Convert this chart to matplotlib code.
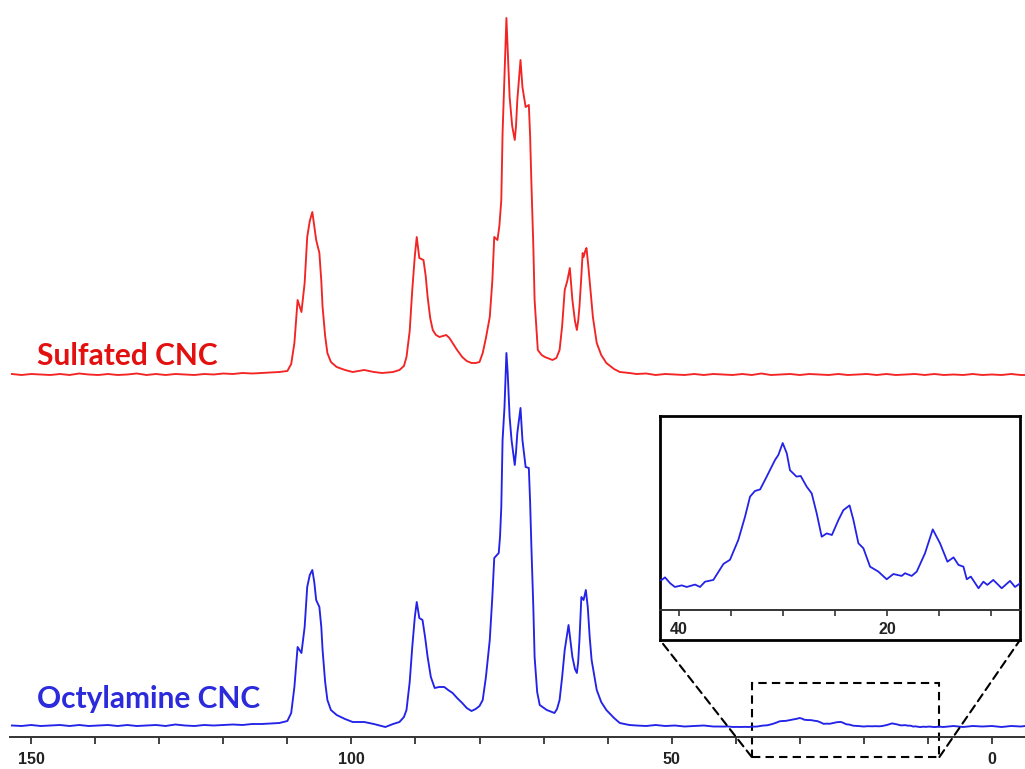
import matplotlib
matplotlib.use('Agg')
import matplotlib.pyplot as plt
from matplotlib.patches import Rectangle, ConnectionPatch

# 13C CP/MAS spectra, chemical shift (ppm) vs intensity (a.u.)
base_left_ppm = [153, 151.5, 150, 148.5, 147, 145.5, 144, 142.5, 141, 139.5, 138, 136.5, 135,
                 133.5, 132, 130.5, 129, 127.5, 126, 124.5, 123, 121.5, 120, 118.5, 117, 115.5,
                 114, 112.5]
base_right_ppm = [55.5, 54, 52.5, 51, 49.5, 48, 46.5, 45, 43.5]
base_tail_ppm = [42, 40.5, 39, 37.5, 36, 34.5, 33, 31.5, 30, 28.5, 27, 25.5, 24, 22.5, 21,
                 19.5, 18, 16.5, 15, 13.5, 12, 10.5, 9, 7.5]
base_end_ppm = [6, 4.5, 3, 1.5, 0, -1.5, -3, -4.5, -5.2]

sulfated_ppm = (base_left_ppm +
                [111.25, 110, 109.4, 108.9, 108.4, 107.8, 107.3, 106.9, 106.5, 106.1, 105.8,
                 105.5, 105.0, 104.7, 104.5, 104.1, 103.75, 103.2, 102.3, 101, 99.8, 98,
                 96.5, 95.2, 93.5, 92.5, 91.8, 91.4, 90.9, 90.5, 90.1, 89.8, 89.4, 88.75,
                 88.4, 88.1, 87.7, 87.3, 86.8, 86.25, 85.7, 85.2, 84.7, 84.2, 83.5, 82.7,
                 82, 81.25, 80.6, 80.0, 79.5, 79.0, 78.4, 78.0, 77.7, 77.2, 76.9, 76.6,
                 76.4, 76.1, 75.8, 75.6, 75.3, 74.9, 74.5, 74.3, 74.1, 73.6, 73.3, 72.8,
                 72.3, 72.1, 71.9, 71.6, 71.4, 71.1, 70.9, 70.3, 69.8, 68.6, 68.0, 67.5,
                 67.1, 66.7, 66.3, 65.9, 65.5, 65.1, 64.8, 64.6, 64.4, 64.1, 63.9, 63.75,
                 63.5, 63.3, 63.0, 62.6, 62.3, 61.7, 61.0, 60.2, 59, 58.1, 56.6] +
                base_right_ppm + base_tail_ppm + base_end_ppm)
sulfated_int = ([2, 1, 2, 1.5, 1, 2, 1, 2.5, 1.5, 1, 2, 1, 1.5, 2.5, 1, 2, 1, 2, 1.5, 1, 2,
                 1.5, 2.5, 2, 3, 2.5, 3, 3.5] +
                [4, 5, 12, 33, 76, 64, 93, 139, 155, 164, 150,
                 136, 123, 95, 69, 40, 23, 14, 9, 6, 4, 6,
                 4, 3, 4, 6, 10, 19, 45, 86, 120, 139, 118, 116,
                 100, 79, 58, 46, 41, 39, 40, 41, 38, 33, 26, 19,
                 15, 13, 13, 14, 23, 38, 59, 95, 139, 136, 150, 176,
                 243, 299, 358, 326, 279, 250, 236, 250, 276, 316, 289, 269,
                 271, 240, 193, 130, 76, 45, 26, 21, 19, 16, 18, 26,
                 50, 86, 95, 108, 76, 55, 46, 55, 69, 100, 123, 119,
                 125, 128, 109, 80, 59, 33, 21, 13, 7, 4, 3] +
                [2, 2.5, 1, 2, 1.5, 1, 2, 1, 2] +
                [1.5, 1, 2, 1, 2.5, 1, 1.5, 2, 1, 2, 1.5, 1, 2, 1, 1.5, 2, 1, 2, 1, 1.5, 2,
                 1, 2, 1] +
                [1.5, 1, 2, 1, 1.5, 1, 2, 1, 1])

octyl_ppm = (base_left_ppm +
             [111.25, 110, 109.4, 108.9, 108.4, 107.8, 107.3, 106.9, 106.5, 106.1, 105.8,
              105.5, 105.0, 104.7, 104.5, 104.1, 103.75, 103.2, 102.3, 101, 99.8, 98,
              96.5, 94.7, 93.5, 92.5, 91.8, 91.4, 90.9, 90.5, 90.1, 89.8, 89.4, 88.9,
              88.5, 88.1, 87.6, 87.0, 86.3, 85.5, 84.9, 84.2, 83.5, 82.7, 82, 81.25,
              80.6, 80.0, 79.5, 79.0, 78.4, 78.0, 77.7, 77.0, 76.8, 76.6, 76.4, 76.1,
              75.8, 75.6, 75.3, 75.0, 74.5, 74.3, 74.1, 73.6, 73.3, 72.8, 72.3, 72.1,
              71.9, 71.6, 71.4, 71.0, 70.6, 69.5, 68.3, 67.9, 67.5, 67.1, 66.7, 66.1,
              65.5, 65.1, 64.8, 64.6, 64.4, 64.1, 63.75, 63.4, 63.1, 62.8, 62.5, 61.7,
              61.0, 60.2, 59, 58.1, 56.6] +
             base_right_ppm +
             [41.66, 41.35, 40.85, 40.4, 39.74, 39.26, 38.46, 37.98, 37.5, 36.7, 35.73,
              35.1, 34.3, 33.65, 33.17, 32.7, 32.2, 31.57, 30.77, 30.45, 30.03, 29.64,
              29.33, 28.7, 28.3, 27.72, 27.24, 26.76, 26.28, 25.8, 25.3, 24.67, 24.2,
              23.6, 23.23, 22.75, 22.27, 21.63, 20.83, 20.03, 19.39, 18.59, 18.27, 17.63,
              17.14, 16.35, 15.6, 14.9, 14.19, 13.6, 13.13, 12.65, 12.33, 11.94, 11.2,
              10.73, 10.35, 9.78, 8.97, 8.17, 7.69, 7.28] +
             base_end_ppm)
octyl_int = ([1.5, 1, 2, 1, 1.5, 2, 1, 2, 1, 1.5, 2, 1, 2, 1, 1.5, 2, 1, 2.5, 1.5, 1, 2,
              1.5, 2, 2.5, 2, 3, 3, 3.5] +
             [4, 6, 14, 40, 80, 74, 100, 140, 152, 157, 145,
              127, 120, 100, 77, 45, 27, 17, 12, 8, 5, 5,
              3, 0, 3, 5, 10, 17, 45, 80, 110, 125, 109, 107,
              90, 70, 50, 39, 40, 40, 37, 34, 29, 24, 19, 16,
              18, 21, 27, 50, 87, 130, 169, 174, 190, 220, 287, 320,
              374, 354, 310, 287, 262, 275, 294, 319, 287, 260, 259, 225,
              180, 120, 70, 35, 22, 17, 14, 18, 27, 50, 77, 102,
              70, 58, 54, 65, 87, 130, 127, 137, 120, 90, 67, 37,
              25, 17, 9, 4, 2] +
             [1.5, 1, 2, 1, 1.5, 0.5, 1, 1.5, 0.5] +
             [0.44, 0.6, 0.23, 0.0, 0.1, 0.0, 0.15, 0.0, 0.33, 0.44, 1.44,
              1.7, 2.94, 4.4, 5.65, 6.0, 6.1, 6.9, 7.94, 8.25, 9.0, 8.36,
              7.3, 6.9, 6.94, 6.27, 5.85, 4.6, 3.14, 3.35, 3.25, 4.19, 4.8,
              5.1, 4.19, 2.73, 2.42, 1.27, 0.96, 0.48, 0.81, 0.69, 0.86, 0.69,
              0.96, 2.1, 3.6, 2.73, 1.58, 1.85, 1.38, 1.27, 0.48, 0.65, -0.08,
              0.33, 0.13, 0.44, -0.08, 0.38, 0.0, 0.19] +
             [1, 0, 1, 0.5, 1, 0, 1, 0.5, 1])

stack_offset = 351
main_ticks = list(range(150, -1, -10))
main_tick_labels = {150: '150', 100: '100', 50: '50', 0: '0'}
inset_ticks = list(range(40, 9, -5))
inset_tick_labels = {40: '40', 20: '20'}
zoom_box = (37.5, 8.2)

red = '#f22424'
blue = '#2323e8'

plt.rcParams['font.family'] = ['Liberation Sans', 'DejaVu Sans']

fig = plt.figure(figsize=(10.25, 7.69), dpi=100)
W, H = 1025, 769

ax = fig.add_axes([10 / W, 32 / H, 1015 / W, 737 / H])
ax.plot(sulfated_ppm, [v + stack_offset for v in sulfated_int], color=red, lw=1.35)
ax.plot(octyl_ppm, octyl_int, color=blue, lw=1.35)
ax.set_xlim(153.3, -5.16)
ax.set_ylim(-10, 727)
for s in ['top', 'left', 'right']:
    ax.spines[s].set_visible(False)
ax.spines['bottom'].set_color('#333333')
ax.spines['bottom'].set_linewidth(1.4)
ax.set_yticks([])
ax.set_xticks(main_ticks)
ax.set_xticklabels([main_tick_labels.get(t, '') for t in main_ticks],
                   fontweight='bold', fontsize=11.5, color='#222222')
ax.tick_params(axis='x', direction='out', length=5, width=1.3, color='#333333', pad=6)
ax.patch.set_alpha(0)

ax.text(0.027, (737 - 356) / 737, 'Sulfated CNC', transform=ax.transAxes,
        color='#e31010', fontsize=21.5, fontweight='bold', family=['Lato', 'DejaVu Sans'],
        va='center', ha='left')
ax.text(0.027, (737 - 699) / 737, 'Octylamine CNC', transform=ax.transAxes,
        color='#2b2bdc', fontsize=21.5, fontweight='bold', family=['Lato', 'DejaVu Sans'],
        va='center', ha='left')

# dashed zoom region
rect = Rectangle((zoom_box[0], -30), zoom_box[1] - zoom_box[0], 74, fill=False,
                 ls=(0, (4, 2.5)), lw=1.5, ec='black', clip_on=False)
ax.add_patch(rect)

# inset frame
box = fig.add_axes([660 / W, 129 / H, 360 / W, 224 / H])
box.set_xticks([])
box.set_yticks([])
for s in box.spines.values():
    s.set_linewidth(2)
box.patch.set_alpha(0)

ins = fig.add_axes([660 / W, 159 / H, 360 / W, 194 / H])
ins.plot(octyl_ppm, octyl_int, color=blue, lw=1.3)
ins.set_xlim(41.83, 7.21)
ins.set_ylim(-1.44, 10.69)
for s in ['top', 'left', 'right']:
    ins.spines[s].set_visible(False)
ins.spines['bottom'].set_color('#333333')
ins.spines['bottom'].set_linewidth(1.4)
ins.set_yticks([])
ins.set_xticks(inset_ticks)
ins.set_xticklabels([inset_tick_labels.get(t, '') for t in inset_ticks],
                    fontweight='bold', fontsize=11.5, color='#222222')
ins.tick_params(axis='x', direction='out', length=4, width=1.2, color='#333333', pad=5)
ins.patch.set_alpha(0)

for xa, xb in [(zoom_box[0], (0, 0)), (zoom_box[1], (1, 0))]:
    con = ConnectionPatch(xyA=(xa, -30), coordsA=ax.transData, xyB=xb, coordsB=box.transAxes,
                          ls=(0, (4, 2.5)), lw=1.5, color='black')
    fig.add_artist(con)

fig.savefig('out.png', dpi=100)
